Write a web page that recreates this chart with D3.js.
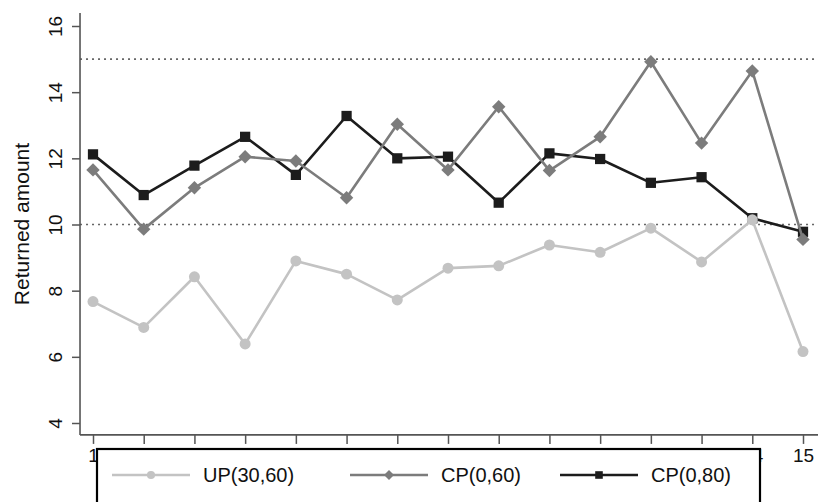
<!DOCTYPE html>
<html>
<head>
<meta charset="utf-8">
<script src="https://cdn.jsdelivr.net/npm/d3@7"></script>
<style>
  html, body { margin: 0; padding: 0; background: #fff; }
  svg { display: block; font-family: "Liberation Sans", Arial, Helvetica, sans-serif; }
</style>
</head>
<body>
<svg id="chart" width="818" height="502"></svg>
<script>
const periods = [1,2,3,4,5,6,7,8,9,10,11,12,13,14,15];
const xTickLabels = ["1","2","3","4","5","6","7","8","9","10","11","12","13","14","15"];
const yTicks = [4,6,8,10,12,14,16];
const refLines = [10,15];
const seriesNames = ["UP(30,60)","CP(0,60)","CP(0,80)"];
const up3060 = [7.67,6.89,8.42,6.39,8.90,8.50,7.72,8.68,8.75,9.38,9.16,9.89,8.87,10.14,6.16];
const cp060  = [11.65,9.86,11.11,12.05,11.92,10.81,13.03,11.65,13.56,11.63,12.65,14.92,12.46,14.64,9.55];
const cp080  = [12.12,10.89,11.78,12.65,11.50,13.28,12.00,12.05,10.66,12.15,11.98,11.26,11.43,10.19,9.78];

const FONT = '"Liberation Sans", Arial, Helvetica, sans-serif';
const svg = d3.select("#chart");
const x = d3.scaleLinear().domain([1,15]).range([93,803]);
const y = d3.scaleLinear().domain([4,16]).range([423,26]);

const axisColor = "#555";
const axisX0 = x(0.744), axisX1 = 818;
const axisYBottom = y(3.64), axisYTop = y(16.39);

// reference dotted lines
svg.selectAll("line.ref").data(refLines).enter().append("line")
  .attr("x1", axisX0).attr("x2", 818)
  .attr("y1", d => y(d)).attr("y2", d => y(d))
  .attr("stroke", "#666").attr("stroke-width", 1.6)
  .attr("stroke-dasharray", "2,4");

// y axis
const yAxis = svg.append("g").attr("transform", `translate(${axisX0},0)`)
  .call(d3.axisLeft(y).tickValues(yTicks).tickSize(8).tickPadding(0).tickFormat(d3.format("d")))
  .attr("font-family", FONT);
yAxis.select(".domain").remove();
yAxis.selectAll(".tick line").attr("stroke", axisColor).attr("stroke-width", 1.5);
yAxis.selectAll(".tick text")
  .attr("transform", "translate(-25,0) rotate(-90)")
  .attr("x", 0).attr("dy", "0.35em")
  .attr("text-anchor", "middle")
  .attr("fill", "#111").style("font-size", "19px");
svg.append("line").attr("x1", axisX0).attr("x2", axisX0)
  .attr("y1", axisYTop).attr("y2", axisYBottom)
  .attr("stroke", axisColor).attr("stroke-width", 1.6);

// x axis
const xAxis = svg.append("g").attr("transform", `translate(0,${axisYBottom})`)
  .call(d3.axisBottom(x).tickValues(periods).tickSize(9).tickPadding(5)
    .tickFormat((d,i) => xTickLabels[i]))
  .attr("font-family", FONT);
xAxis.select(".domain").remove();
xAxis.selectAll(".tick line").attr("stroke", axisColor).attr("stroke-width", 1.5);
xAxis.selectAll(".tick text").attr("fill", "#111").style("font-size", "19px");
svg.append("line").attr("x1", axisX0).attr("x2", axisX1)
  .attr("y1", axisYBottom).attr("y2", axisYBottom)
  .attr("stroke", axisColor).attr("stroke-width", 1.6);

// y axis title
svg.append("text")
  .attr("transform", `translate(22,${(axisYTop+axisYBottom)/2}) rotate(-90)`)
  .attr("text-anchor", "middle").attr("dy", "0.35em")
  .attr("fill", "#111").style("font-size", "21px")
  .text("Returned amount");

const series = [
  {name: seriesNames[0], values: up3060, color: "#c3c3c3", marker: "circle"},
  {name: seriesNames[1], values: cp060, color: "#7c7c7c", marker: "diamond"},
  {name: seriesNames[2], values: cp080, color: "#1c1c1c", marker: "square"}
];
const symbolFor = m => m === "circle" ? d3.symbolCircle : d3.symbolSquare;
const sizeFor = m => m === "circle" ? 95 : (m === "square" ? 105 : 90);
const rotFor = m => m === "diamond" ? 45 : 0;

const line = d3.line().x((d,i) => x(periods[i])).y(d => y(d));

// draw in reverse so first series ends on top
series.slice().reverse().forEach(s => {
  const g = svg.append("g");
  g.append("path").datum(s.values)
    .attr("d", line).attr("fill", "none")
    .attr("stroke", s.color).attr("stroke-width", 2.6)
    .attr("stroke-linejoin", "round");
  g.selectAll("path.m").data(s.values).enter().append("path")
    .attr("class", "m")
    .attr("transform", (d,i) => `translate(${x(periods[i])},${y(d)}) rotate(${rotFor(s.marker)})`)
    .attr("d", d3.symbol().type(symbolFor(s.marker)).size(sizeFor(s.marker)))
    .attr("fill", s.color);
});

// legend
const legend = svg.append("g");
legend.append("rect")
  .attr("x", 97).attr("y", 449).attr("width", 663).attr("height", 70)
  .attr("fill", "#fff").attr("stroke", "#000").attr("stroke-width", 2.2);
const legendX = [112, 350, 560];
series.forEach((s, i) => {
  const lx = legendX[i], ly = 475;
  legend.append("line").attr("x1", lx).attr("x2", lx + 78)
    .attr("y1", ly).attr("y2", ly)
    .attr("stroke", s.color).attr("stroke-width", 2.6);
  legend.append("path")
    .attr("transform", `translate(${lx + 39},${ly}) rotate(${rotFor(s.marker)})`)
    .attr("d", d3.symbol().type(symbolFor(s.marker)).size(sizeFor(s.marker) * 0.55))
    .attr("fill", s.color);
  legend.append("text").attr("x", lx + 91).attr("y", ly + 7)
    .attr("fill", "#111").style("font-size", "20px")
    .text(s.name);
});
</script>
</body>
</html>
